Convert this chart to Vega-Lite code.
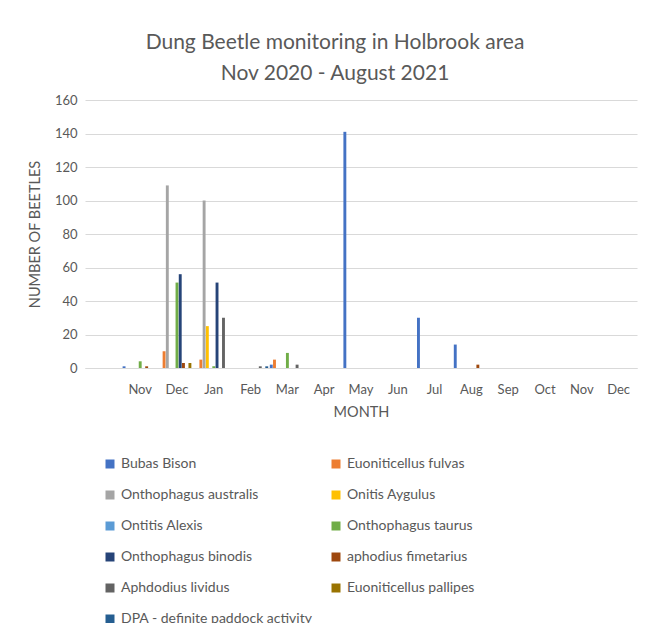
{
  "$schema": "https://vega.github.io/schema/vega-lite/v6.json",
  "autosize": "none",
  "width": 552,
  "height": 268,
  "padding": {"left": 85, "top": 100, "right": 16, "bottom": 255},
  "background": "white",
  "title": {
    "text": ["Dung Beetle monitoring in Holbrook area", "Nov 2020 - August 2021"],
    "font": "Lato",
    "fontSize": 21,
    "fontWeight": "normal",
    "color": "#595959",
    "lineHeight": 31,
    "anchor": "middle",
    "dx": -26,
    "offset": 10
  },
  "data": {
    "values": [
      {"month": "Nov 2020", "species": "Bubas Bison", "count": 1},
      {"month": "Nov 2020", "species": "Onthophagus taurus", "count": 4},
      {"month": "Nov 2020", "species": "aphodius fimetarius", "count": 1},
      {"month": "Dec 2020", "species": "Euoniticellus fulvas", "count": 10},
      {"month": "Dec 2020", "species": "Onthophagus australis", "count": 109},
      {"month": "Dec 2020", "species": "Onthophagus taurus", "count": 51},
      {"month": "Dec 2020", "species": "Onthophagus binodis", "count": 56},
      {"month": "Dec 2020", "species": "aphodius fimetarius", "count": 3},
      {"month": "Dec 2020", "species": "Euoniticellus pallipes", "count": 3},
      {"month": "Jan 2021", "species": "Euoniticellus fulvas", "count": 5},
      {"month": "Jan 2021", "species": "Onthophagus australis", "count": 100},
      {"month": "Jan 2021", "species": "Onitis Aygulus", "count": 25},
      {"month": "Jan 2021", "species": "Onthophagus taurus", "count": 1},
      {"month": "Jan 2021", "species": "Onthophagus binodis", "count": 51},
      {"month": "Jan 2021", "species": "Aphdodius lividus", "count": 30},
      {"month": "Feb 2021", "species": "Aphdodius lividus", "count": 1},
      {"month": "Feb 2021", "species": "DPA - definite paddock activity", "count": 1},
      {"month": "Mar 2021", "species": "Bubas Bison", "count": 2},
      {"month": "Mar 2021", "species": "Euoniticellus fulvas", "count": 5},
      {"month": "Mar 2021", "species": "Onthophagus taurus", "count": 9},
      {"month": "Mar 2021", "species": "Aphdodius lividus", "count": 2},
      {"month": "May 2021", "species": "Bubas Bison", "count": 141},
      {"month": "Jul 2021", "species": "Bubas Bison", "count": 30},
      {"month": "Aug 2021", "species": "Bubas Bison", "count": 14},
      {"month": "Aug 2021", "species": "aphodius fimetarius", "count": 2}
    ]
  },
  "mark": {"type": "bar"},
  "encoding": {
    "x": {
      "field": "month",
      "type": "nominal",
      "scale": {
        "domain": ["Nov 2020", "Dec 2020", "Jan 2021", "Feb 2021", "Mar 2021", "Apr 2021", "May 2021", "Jun 2021", "Jul 2021", "Aug 2021", "Sep 2021", "Oct 2021", "Nov 2021", "Dec 2021"],
        "paddingInner": 0,
        "paddingOuter": 0.5,
        "align": 1
      },
      "axis": {
        "title": "MONTH",
        "labelExpr": "slice(datum.value, 0, 3)",
        "labelAngle": 0,
        "ticks": false,
        "grid": false,
        "domainColor": "#D9D9D9",
        "labelPadding": 15,
        "titlePadding": 9
      }
    },
    "xOffset": {
      "field": "species",
      "type": "nominal",
      "scale": {
        "domain": ["Bubas Bison", "Euoniticellus fulvas", "Onthophagus australis", "Onitis Aygulus", "Ontitis Alexis", "Onthophagus taurus", "Onthophagus binodis", "aphodius fimetarius", "Aphdodius lividus", "Euoniticellus pallipes", "DPA - definite paddock activity"],
        "paddingInner": 0.1,
        "paddingOuter": 0.25
      }
    },
    "y": {
      "field": "count",
      "type": "quantitative",
      "scale": {"domain": [0, 160], "nice": false},
      "axis": {
        "title": "NUMBER OF BEETLES",
        "values": [0, 20, 40, 60, 80, 100, 120, 140, 160],
        "domain": false,
        "ticks": false,
        "gridColor": "#D9D9D9",
        "labelPadding": 8,
        "titlePadding": 12
      }
    },
    "color": {
      "field": "species",
      "type": "nominal",
      "scale": {
        "domain": ["Bubas Bison", "Euoniticellus fulvas", "Onthophagus australis", "Onitis Aygulus", "Ontitis Alexis", "Onthophagus taurus", "Onthophagus binodis", "aphodius fimetarius", "Aphdodius lividus", "Euoniticellus pallipes", "DPA - definite paddock activity"],
        "range": ["#4472C4", "#ED7D31", "#A5A5A5", "#FFC000", "#5B9BD5", "#70AD47", "#264478", "#9E480E", "#636363", "#997300", "#255E91"]
      },
      "legend": {
        "title": null,
        "orient": "none",
        "direction": "horizontal",
        "legendX": 18,
        "legendY": 357,
        "columns": 2,
        "columnPadding": 16,
        "rowPadding": 17,
        "symbolType": "square",
        "symbolSize": 81,
        "symbolStrokeWidth": 0,
        "labelOffset": 4,
        "labelLimit": 300
      }
    }
  },
  "config": {
    "view": {"stroke": null},
    "font": "Lato",
    "axis": {
      "labelFont": "Lato",
      "titleFont": "Lato",
      "labelFontSize": 13,
      "titleFontSize": 14.5,
      "titleFontWeight": "normal",
      "labelColor": "#595959",
      "titleColor": "#595959"
    },
    "legend": {
      "labelFont": "Lato",
      "labelFontSize": 14,
      "labelColor": "#595959"
    }
  }
}
